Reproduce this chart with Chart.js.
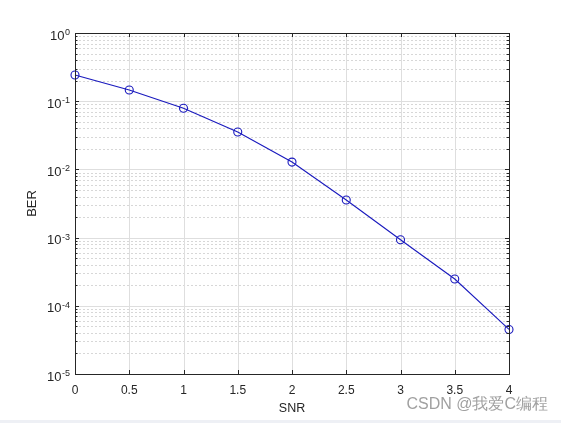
<!DOCTYPE html>
<html>
<head>
<meta charset="utf-8">
<script src="https://cdn.jsdelivr.net/npm/chart.js@4/dist/chart.umd.min.js"></script>
<style>
  html, body { margin: 0; padding: 0; background: #fff; }
  #wrap { width: 561px; height: 423px; position: relative; }
</style>
</head>
<body>
<div id="wrap"><canvas id="chart" width="561" height="423"></canvas></div>
<script>
// values
const snr = [0, 0.5, 1, 1.5, 2, 2.5, 3, 3.5, 4];
const ber = [0.242, 0.146, 0.0787, 0.0353, 0.0128, 0.00356, 0.00093, 0.000247, 0.000045];
const xTicks = [0, 0.5, 1, 1.5, 2, 2.5, 3, 3.5, 4];
const yExponents = [-5, -4, -3, -2, -1, 0];
const watermark = 'CSDN @我爱C编程';

const lineColor = 'rgb(25,25,190)';
const font = '"Liberation Sans", Arial, sans-serif';

// MATLAB-like box, grid, inward ticks and 10^n labels
const matlabAxes = {
    id: 'matlabAxes',
    beforeDraw(chart) {
        const ctx = chart.ctx;
        ctx.save();
        ctx.fillStyle = '#ffffff';
        ctx.fillRect(0, 0, chart.width, chart.height);
        ctx.fillStyle = '#eef0f5';
        ctx.fillRect(0, chart.height - 3, chart.width, 3);
        ctx.restore();
    },
    beforeDatasetsDraw(chart) {
        const {ctx, chartArea: a, scales: {x, y}} = chart;
        ctx.save();
        ctx.lineWidth = 1;
        // minor dotted grid
        ctx.strokeStyle = 'rgb(215,215,215)';
        ctx.setLineDash([2, 2]);
        yExponents.slice(0, -1).forEach(e => {
            for (let k = 2; k <= 9; k++) {
                const py = Math.round(y.getPixelForValue(k * Math.pow(10, e))) + 0.5;
                ctx.beginPath();
                ctx.moveTo(a.left, py);
                ctx.lineTo(a.right, py);
                ctx.stroke();
            }
        });
        ctx.setLineDash([]);
        // major grid
        ctx.strokeStyle = 'rgb(222,222,222)';
        yExponents.forEach(e => {
            const py = Math.round(y.getPixelForValue(Math.pow(10, e))) + 0.5;
            ctx.beginPath();
            ctx.moveTo(a.left, py);
            ctx.lineTo(a.right, py);
            ctx.stroke();
        });
        xTicks.forEach(v => {
            const px = Math.round(x.getPixelForValue(v)) + 0.5;
            ctx.beginPath();
            ctx.moveTo(px, a.top);
            ctx.lineTo(px, a.bottom);
            ctx.stroke();
        });
        ctx.restore();
    },
    afterDraw(chart) {
        const {ctx, chartArea: a, scales: {x, y}} = chart;
        ctx.save();
        ctx.strokeStyle = '#262626';
        ctx.lineWidth = 1;
        // inward ticks
        ctx.beginPath();
        xTicks.forEach(v => {
            const px = Math.round(x.getPixelForValue(v)) + 0.5;
            ctx.moveTo(px, a.bottom); ctx.lineTo(px, a.bottom - 4);
            ctx.moveTo(px, a.top); ctx.lineTo(px, a.top + 4);
        });
        yExponents.forEach((e, i) => {
            for (let k = 1; k <= 9; k++) {
                if (i === yExponents.length - 1 && k > 1) break;
                const py = Math.round(y.getPixelForValue(k * Math.pow(10, e))) + 0.5;
                const len = k === 1 ? 4 : 2.5;
                ctx.moveTo(a.left, py); ctx.lineTo(a.left + len, py);
                ctx.moveTo(a.right, py); ctx.lineTo(a.right - len, py);
            }
        });
        ctx.stroke();
        // box
        ctx.strokeRect(Math.round(a.left) + 0.5, Math.round(a.top) + 0.5,
            Math.round(a.right - a.left), Math.round(a.bottom - a.top));

        // y tick labels 10^n
        ctx.fillStyle = '#262626';
        ctx.textAlign = 'right';
        ctx.textBaseline = 'alphabetic';
        yExponents.forEach(e => {
            const py = y.getPixelForValue(Math.pow(10, e));
            const exp = String(e);
            ctx.font = '9px ' + font;
            const w = ctx.measureText(exp).width;
            ctx.fillText(exp, a.left - 5, py + 2);
            ctx.font = '13px ' + font;
            ctx.fillText('10', a.left - 5 - w - 0.5, py + 6.5);
        });

        // watermark
        ctx.font = '16px ' + font;
        ctx.textAlign = 'right';
        ctx.textBaseline = 'middle';
        ctx.fillStyle = 'rgba(150,150,150,0.9)';
        ctx.fillText(watermark, 548, 405);
        ctx.restore();
    }
};

new Chart(document.getElementById('chart'), {
    type: 'line',
    data: {
        datasets: [{
            label: 'BER',
            data: snr.map((s, i) => ({x: s, y: ber[i]})),
            borderColor: lineColor,
            borderWidth: 1.1,
            backgroundColor: 'transparent',
            pointStyle: 'circle',
            pointRadius: 4,
            pointBorderWidth: 1.1,
            pointBorderColor: lineColor,
            pointBackgroundColor: 'transparent',
            tension: 0,
            clip: false
        }]
    },
    options: {
        responsive: false,
        animation: false,
        layout: { padding: { left: 0, top: 33, right: 52, bottom: 0 } },
        plugins: {
            legend: { display: false },
            tooltip: { enabled: false }
        },
        scales: {
            x: {
                type: 'linear',
                min: 0,
                max: 4,
                afterFit: s => { s.height = 49; },
                afterBuildTicks: s => { s.ticks = xTicks.map(v => ({value: v})); },
                grid: { display: false, drawTicks: false },
                border: { display: false },
                ticks: {
                    padding: 9,
                    color: '#262626',
                    font: { family: font, size: 12 },
                    maxRotation: 0,
                    autoSkip: false,
                    callback: v => String(v)
                },
                title: {
                    display: true,
                    text: 'SNR',
                    color: '#262626',
                    font: { family: font, size: 12.5 },
                    padding: { top: 0, bottom: 7 }
                }
            },
            y: {
                type: 'logarithmic',
                min: 1e-5,
                max: 1,
                afterFit: s => { s.width = 75; },
                grid: { display: false, drawTicks: false },
                border: { display: false },
                ticks: { display: false },
                title: {
                    display: true,
                    text: 'BER',
                    color: '#262626',
                    font: { family: font, size: 13 },
                    padding: { top: 25, bottom: 0 }
                }
            }
        }
    },
    plugins: [matlabAxes]
});
</script>
</body>
</html>
